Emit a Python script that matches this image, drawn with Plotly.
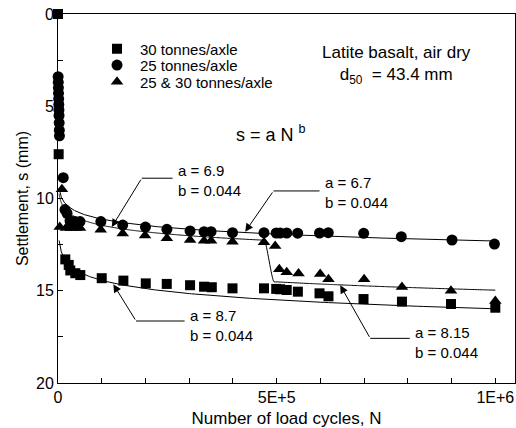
import numpy as np
import plotly.graph_objects as go

# ---------------- data ----------------
# 30 tonnes/axle
n_30 = [0, 1500, 16700, 24500, 28100, 39600, 51000, 100000, 149500, 200700,
        248700, 302000, 334000, 351700, 399000, 471000, 499000, 508000, 523000,
        548500, 598000, 618500, 698600, 786500, 898600, 1000000]
s_30 = [0.0, 7.6, 13.3, 13.6, 13.9, 14.05, 14.15, 14.32, 14.45, 14.6,
        14.63, 14.7, 14.78, 14.81, 14.87, 14.87, 14.9, 14.92, 14.96,
        15.05, 15.14, 15.3, 15.45, 15.59, 15.72, 15.92]

# 25 tonnes/axle
n_25 = [300, 600, 900, 1200, 1500, 1800, 2100, 2400, 2700, 3000, 3300,
        12000, 16000, 20600, 27500, 38900, 50300, 98000, 148000, 200000,
        249000, 302000, 334000, 350000, 399000, 471000, 499000, 508000,
        523000, 548000, 598000, 618000, 699000, 785000, 901000, 998000]
s_25 = [3.4, 3.7, 4.0, 4.3, 4.6, 4.9, 5.2, 5.5, 5.9, 6.3, 6.6,
        8.87, 10.6, 10.8, 11.2, 11.25, 11.25, 11.25, 11.44, 11.55,
        11.67, 11.76, 11.8, 11.8, 11.85, 11.85, 11.87, 11.87,
        11.87, 11.88, 11.87, 11.85, 11.89, 12.07, 12.25, 12.47]

# 25 & 30 tonnes/axle
n_2530 = [9000, 4000, 18300, 29700, 41200, 50300, 97700, 148000, 199000,
          249000, 302000, 334000, 350000, 399000, 471000, 496600, 506000,
          523000, 550000, 599500, 618500, 700000, 786500, 898600, 1000000]
s_2530 = [9.5, 11.55, 11.6, 11.6, 11.6, 11.6, 11.7, 11.9, 12.0,
          12.16, 12.25, 12.29, 12.29, 12.34, 12.37, 12.57, 13.84,
          14.0, 14.06, 14.09, 14.38, 14.38, 14.8, 15.0, 15.55]

series_names = ["30 tonnes/axle", "25 tonnes/axle", "25 & 30 tonnes/axle"]

# power-law fits  s = a N^b
b_fit = 0.044
a_30 = 8.7
a_25 = 6.7
a_2530_first = 6.9
a_2530_second = 8.15
n_break_end = 478000      # end of first 25&30 stage
n_break_start = 492000    # start of second 25&30 stage

x_tickvals = [0, 100000, 200000, 300000, 400000, 500000, 600000, 700000, 800000, 900000, 1000000]
x_ticktext = ["0", "", "", "", "", "5E+5", "", "", "", "", "1E+6"]
y_tickvals = [0, 2.5, 5, 7.5, 10, 12.5, 15, 17.5, 20]
y_ticktext = ["0", "", "5", "", "10", "", "15", "", "20"]

FONT = "Liberation Sans, Arial, Helvetica, sans-serif"

# ---------------- fit curves ----------------
n_grid = np.geomspace(2500, 1.0e6, 400)
fit_30 = a_30 * n_grid ** b_fit
fit_25 = a_25 * n_grid ** b_fit
n_g1 = n_grid[n_grid <= n_break_end]
n_g2 = n_grid[n_grid >= n_break_start]
n_2530_fit = np.concatenate([n_g1, n_g2])
s_2530_fit = np.concatenate([a_2530_first * n_g1 ** b_fit, a_2530_second * n_g2 ** b_fit])

fig = go.Figure()
line_style = dict(color="black", width=1)
for xx, yy in [(n_grid, fit_30), (n_grid, fit_25)]:
    fig.add_trace(go.Scatter(x=xx, y=yy, mode="lines", line=line_style,
                             showlegend=False, hoverinfo="skip"))
fig.add_trace(go.Scatter(x=n_2530_fit, y=s_2530_fit, mode="lines",
                         line=dict(color="black", width=1, shape="spline", smoothing=0.6),
                         showlegend=False, hoverinfo="skip"))

fig.add_trace(go.Scatter(x=n_30, y=s_30, mode="markers", name=series_names[0],
                         marker=dict(symbol="square", size=10, color="black"),
                         cliponaxis=False, legend="legend"))
fig.add_trace(go.Scatter(x=n_25, y=s_25, mode="markers", name=series_names[1],
                         marker=dict(symbol="circle", size=11, color="black"),
                         cliponaxis=False, legend="legend2"))
fig.add_trace(go.Scatter(x=n_2530, y=s_2530, mode="markers", name=series_names[2],
                         marker=dict(symbol="triangle-up", size=11, color="black"),
                         cliponaxis=False, legend="legend3"))

# ---------------- annotations ----------------
ann_font = dict(family=FONT, size=15, color="black")
labels = [
    # text, text x, text y, kink x, kink y, tip x, tip y
    ("a = 6.9<br>b = 0.044", 270000, 9.05, 191500, 8.9, 122900, 11.55),
    ("a = 6.7<br>b = 0.044", 606000, 9.65, 492700, 9.59, 428000, 11.8),
    ("a = 8.7<br>b = 0.044", 297500, 16.86, 178500, 16.64, 126500, 14.65),
    ("a = 8.15<br>b = 0.044", 812400, 17.83, 714000, 17.58, 645300, 14.7),
]
for txt, tx, ty, kx, ky, px, py in labels:
    fig.add_annotation(x=tx, y=ty, xref="x", yref="y", text=txt, showarrow=False,
                       xanchor="left", yanchor="middle", align="left", font=ann_font)
    fig.add_annotation(x=px, y=py, ax=kx, ay=ky, xref="x", yref="y", axref="x", ayref="y",
                       text="", showarrow=True, arrowhead=2, arrowsize=1.6, arrowwidth=1,
                       arrowcolor="black")
    fig.add_shape(type="line", x0=kx, y0=ky, x1=tx - 8000, y1=ky, xref="x", yref="y",
                  line=dict(color="black", width=1))

fig.add_annotation(x=0.74, y=0.863, xref="paper", yref="paper",
                   text="Latite basalt, air dry<br>d<sub>50</sub>  = 43.4 mm",
                   showarrow=False, align="center", xanchor="center", yanchor="middle",
                   font=dict(family=FONT, size=17, color="black"))
fig.add_annotation(x=0.465, y=0.677, xref="paper", yref="paper",
                   text="s = a N <sup>b</sup>", showarrow=False,
                   xanchor="center", yanchor="middle",
                   font=dict(family=FONT, size=18, color="black"))

leg_common = dict(x=0.0788, xanchor="left", yanchor="middle", bgcolor="rgba(0,0,0,0)",
                  font=dict(family=FONT, size=15), itemwidth=36, borderwidth=0)
fig.update_layout(
    width=516, height=428,
    margin=dict(l=58, r=1, t=14, b=45),
    paper_bgcolor="white", plot_bgcolor="white",
    font=dict(family=FONT, size=16, color="black"),
    legend=dict(y=0.905, **leg_common),
    legend2=dict(y=0.861, **leg_common),
    legend3=dict(y=0.816, **leg_common),
    showlegend=True,
)
fig.update_xaxes(range=[0, 1.045e6], tickvals=x_tickvals, ticktext=x_ticktext,
                 ticks="inside", ticklen=5, tickcolor="black", showline=True,
                 linecolor="black", linewidth=1, mirror=True, showgrid=False,
                 zeroline=False, tickfont=dict(size=16),
                 title=dict(text="Number of load cycles, N", font=dict(size=17), standoff=7))
fig.update_yaxes(range=[20, 0], tickvals=y_tickvals, ticktext=y_ticktext,
                 ticks="inside", ticklen=5, tickcolor="black", showline=True,
                 linecolor="black", linewidth=1, mirror=True, showgrid=False,
                 zeroline=False, tickfont=dict(size=16),
                 title=dict(text="Settlement, s (mm)", font=dict(size=16), standoff=3))

fig.write_html("out.html")
